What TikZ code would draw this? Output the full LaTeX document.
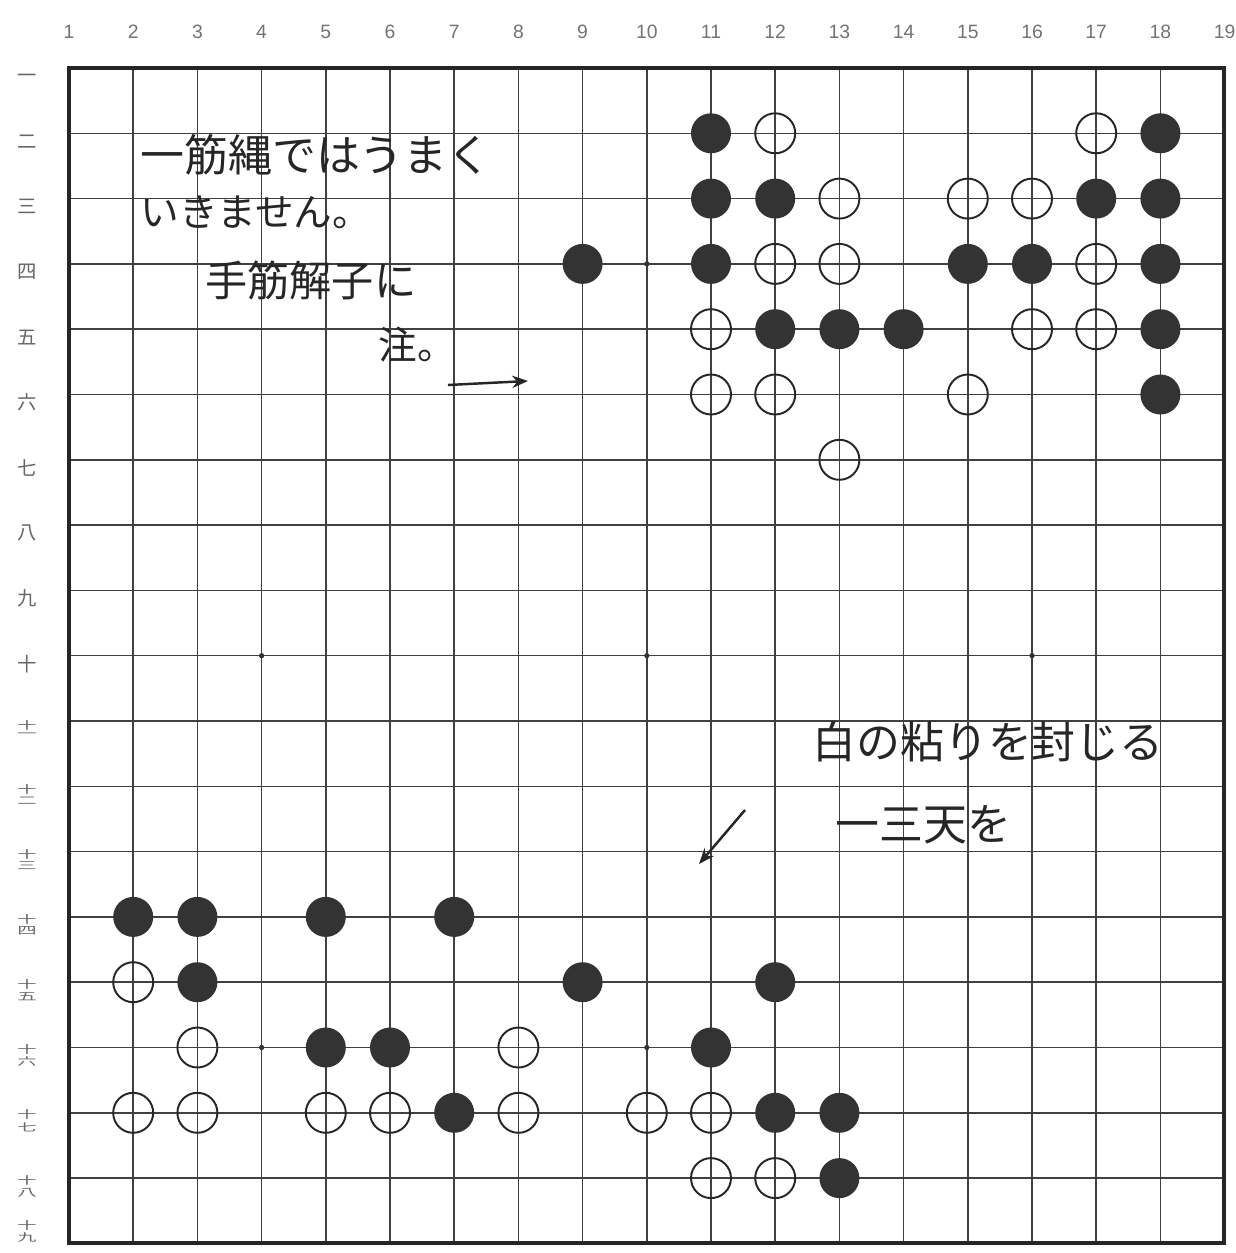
\documentclass[tikz,border=0pt]{standalone}
\usepackage{fontspec}
\setmainfont{Liberation Sans}
\newfontfamily\jp{Noto Sans CJK JP}
\usetikzlibrary{arrows.meta}
\newcommand\stk[2]{\scalebox{1}[0.55]{\shortstack[c]{#1\\#2}}}
\begin{document}
\begin{tikzpicture}[x=0.02cm,y=-0.02cm,
  grid/.style={line width=0.9pt, black!75},
  border/.style={line width=1.8pt, black!85},
  bstone/.style={circle, fill=black!80, minimum size=0.8cm, inner sep=0pt},
  wstone/.style={circle, draw=black!85, line width=1.1pt, minimum size=0.8cm, inner sep=0pt},
  star/.style={circle, fill=black!80, minimum size=3pt, inner sep=0pt},
  collab/.style={font=\fontsize{11}{11}\selectfont, text=black!55},
  rowlab/.style={font=\jp\fontsize{11}{11}\selectfont, text=black!60},
  hand/.style={font=\jp\fontsize{25}{25}\selectfont, anchor=west, inner sep=0pt, text=black!85},
  arr/.style={line width=1.4pt, black!85, -{Stealth[length=9pt,width=7pt]}}
  ]
\useasboundingbox (0,0) rectangle (1235,1253);
\fill[white] (0,0) rectangle (1235,1253);
% grid
\foreach \c in {2,...,18} { \draw[grid] ({69+64.2*(\c-1)},68) -- ({69+64.2*(\c-1)},1243); }
\foreach \r in {2,...,18} { \draw[grid] (69,{68+65.3*(\r-1)}) -- (1224,{68+65.3*(\r-1)}); }
\draw[border] (69,68) rectangle (1224,1243);
% star points
\foreach \c/\r [count=\i] in {10/4,4/10,10/10,16/10,4/16,10/16}
  \node[star] (s\i) at ({69+64.2*(\c-1)},{68+65.3*(\r-1)}) {};
% column labels
\foreach \c in {1,...,19}
  \node[collab] (c\c) at ({69+64.2*(\c-1)},32) {\c};
% row labels
\foreach \r/\t/\d in {1/一/10,2/二/8,3/三/8,4/四/8,5/五/8,6/六/8,7/七/8,8/八/8,9/九/8,10/十/8,
  11/{\stk{十}{一}}/8,12/{\stk{十}{二}}/8,13/{\stk{十}{三}}/8,14/{\stk{十}{四}}/8,15/{\stk{十}{五}}/8,
  16/{\stk{十}{六}}/8,17/{\stk{十}{七}}/8,18/{\stk{十}{八}}/8,19/{\stk{十}{九}}/-12}
  \node[rowlab] (r\r) at (27,{68+65.3*(\r-1)+\d}) {\t};
% black stones
\foreach \c/\r [count=\i] in {11/2,18/2,11/3,12/3,17/3,18/3,9/4,11/4,15/4,16/4,18/4,
  12/5,13/5,14/5,18/5,18/6,
  2/14,3/14,5/14,7/14,3/15,9/15,12/15,5/16,6/16,11/16,7/17,12/17,13/17,13/18}
  \node[bstone] (b\i) at ({69+64.2*(\c-1)},{68+65.3*(\r-1)}) {};
% white stones
\foreach \c/\r [count=\i] in {12/2,17/2,13/3,15/3,16/3,12/4,13/4,17/4,11/5,16/5,17/5,
  11/6,12/6,15/6,13/7,
  2/15,3/16,8/16,2/17,3/17,5/17,6/17,8/17,10/17,11/17,11/18,12/18}
  \node[wstone] (w\i) at ({69+64.2*(\c-1)},{68+65.3*(\r-1)}) {};
% arrows
\coordinate (a1s) at (448,385);
\coordinate (a1e) at (528,381);
\draw[arr] (a1s) -- (a1e);
\coordinate (a2s) at (745,810);
\coordinate (a2e) at (699,864);
\draw[arr] (a2s) -- (a2e);
% handwritten notes
\node[hand] (t1) at (140,155) {一筋縄ではうまく};
\node[hand, font=\jp\fontsize{22}{22}\selectfont] (t2) at (140,212) {いきません。};
\node[hand, font=\jp\fontsize{24}{24}\selectfont] (t3) at (205,280) {手筋解子に};
\node[hand, font=\jp\fontsize{22}{22}\selectfont] (t4) at (378,345) {注。};
\node[hand] (t5) at (812,742) {白の粘りを封じる};
\node[hand] (t6) at (835,825) {一三天を};
\end{tikzpicture}
\end{document}
